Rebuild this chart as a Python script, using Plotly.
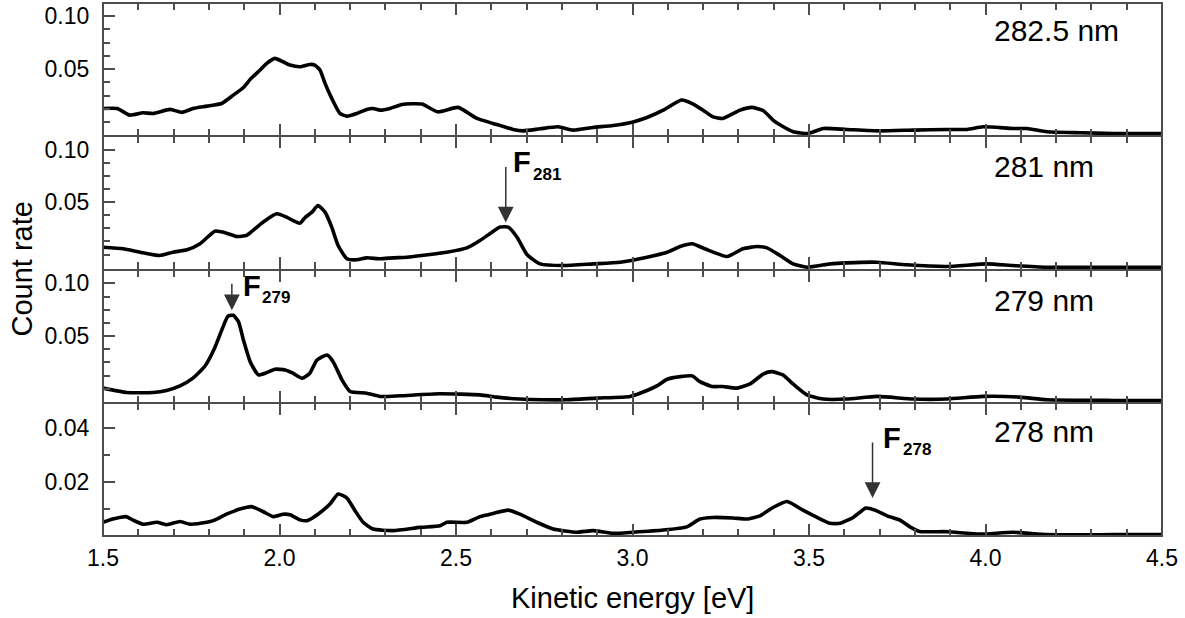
import plotly.graph_objects as go

# ---------------- data ----------------
ke_2825 = [1.50, 1.54, 1.576, 1.613, 1.642, 1.69, 1.724, 1.755, 1.794, 1.836, 1.869, 1.898, 1.917, 1.945, 1.964,
           1.987, 2.01, 2.03, 2.058, 2.086, 2.10, 2.115, 2.129, 2.148, 2.171, 2.191, 2.219, 2.247, 2.265, 2.285,
           2.313, 2.347, 2.403, 2.449, 2.506, 2.559, 2.605, 2.662, 2.69, 2.738, 2.789, 2.832, 2.888, 2.945, 2.999,
           3.041, 3.087, 3.111, 3.139, 3.172, 3.20, 3.228, 3.256, 3.305, 3.338, 3.371, 3.398, 3.42, 3.455, 3.498,
           3.54, 3.607, 3.701, 3.795, 3.891, 3.948, 3.993, 4.078, 4.118, 4.174, 4.268, 4.361, 4.50]
rate_2825 = [0.0129, 0.0129, 0.0066, 0.0088, 0.0082, 0.0120, 0.0092, 0.0129, 0.0151, 0.0176, 0.0255, 0.0327, 0.0403,
             0.0491, 0.0554, 0.0601, 0.0569, 0.0538, 0.0522, 0.0544, 0.0538, 0.0490, 0.0365, 0.0224, 0.0082, 0.0057,
             0.0082, 0.0120, 0.0129, 0.0113, 0.0129, 0.0167, 0.0170, 0.0097, 0.0139, 0.0035, -0.0012, -0.0069,
             -0.0082, -0.0063, -0.0044, -0.0075, -0.0050, -0.0031, 0.0000, 0.0044, 0.0113, 0.0160, 0.0208, 0.0170,
             0.0113, 0.0050, 0.0035, 0.0113, 0.0139, 0.0107, 0.0019, -0.0030, -0.0091, -0.0107, -0.0060, -0.0069,
             -0.0082, -0.0075, -0.0069, -0.0069, -0.0044, -0.0060, -0.0060, -0.0091, -0.0100, -0.0107, -0.0107]

ke_281 = [1.50, 1.557, 1.605, 1.661, 1.698, 1.738, 1.775, 1.817, 1.85, 1.879, 1.907, 1.925, 1.953, 1.992, 2.02,
          2.038, 2.058, 2.072, 2.092, 2.109, 2.129, 2.148, 2.166, 2.191, 2.219, 2.247, 2.285, 2.322, 2.361, 2.426,
          2.474, 2.531, 2.568, 2.602, 2.625, 2.648, 2.673, 2.701, 2.738, 2.803, 2.888, 2.965, 3.041, 3.098, 3.135,
          3.169, 3.205, 3.268, 3.313, 3.353, 3.381, 3.418, 3.455, 3.494, 3.56, 3.607, 3.693, 3.777, 3.891, 4.004,
          4.078, 4.174, 4.361, 4.50]
rate_281 = [0.0070, 0.0055, 0.0022, -0.0010, 0.0022, 0.0045, 0.0103, 0.0224, 0.0205, 0.0173, 0.0183, 0.0231, 0.0310,
            0.0391, 0.0359, 0.0327, 0.0301, 0.0353, 0.0407, 0.0471, 0.0407, 0.0263, 0.0087, -0.0041, -0.0051,
            -0.0032, -0.0041, -0.0032, -0.0026, 0.0000, 0.0022, 0.0064, 0.0135, 0.0214, 0.0263, 0.0263, 0.0166,
            0.0000, -0.0090, -0.0106, -0.0090, -0.0074, -0.0026, 0.0022, 0.0077, 0.0103, 0.0055, -0.0019, 0.0055,
            0.0077, 0.0064, -0.0010, -0.0090, -0.0122, -0.0090, -0.0080, -0.0074, -0.0099, -0.0115, -0.0090,
            -0.0106, -0.0122, -0.0122, -0.0122]

ke_279 = [1.50, 1.567, 1.642, 1.68, 1.718, 1.755, 1.789, 1.817, 1.84, 1.854, 1.869, 1.884, 1.898, 1.917, 1.94,
          1.964, 1.987, 2.016, 2.038, 2.064, 2.086, 2.106, 2.135, 2.152, 2.177, 2.20, 2.247, 2.285, 2.341, 2.455,
          2.568, 2.616, 2.681, 2.746, 2.814, 2.899, 2.993, 3.041, 3.069, 3.098, 3.135, 3.169, 3.191, 3.225, 3.256,
          3.296, 3.333, 3.371, 3.394, 3.426, 3.455, 3.494, 3.54, 3.607, 3.693, 3.795, 3.891, 3.993, 4.098, 4.174,
          4.361, 4.50]
rate_279 = [0.0007, -0.0035, -0.0035, -0.0016, 0.0028, 0.0101, 0.0217, 0.0393, 0.0588, 0.0689, 0.0698, 0.0635,
            0.0462, 0.0258, 0.0132, 0.0154, 0.0186, 0.0179, 0.0148, 0.0101, 0.0148, 0.0274, 0.0321, 0.0258, 0.0085,
            -0.0025, -0.0041, -0.0072, -0.0066, -0.0047, -0.0057, -0.0079, -0.0097, -0.0104, -0.0104, -0.0088,
            -0.0072, -0.0016, 0.0028, 0.0091, 0.0116, 0.0123, 0.0069, 0.0022, 0.0022, 0.0007, 0.0047, 0.0142,
            0.0163, 0.0132, 0.0046, -0.0057, -0.0097, -0.0097, -0.0072, -0.0097, -0.0097, -0.0072, -0.0079,
            -0.0104, -0.0110, -0.0110]

ke_278 = [1.50, 1.528, 1.565, 1.585, 1.613, 1.653, 1.681, 1.718, 1.746, 1.794, 1.812, 1.85, 1.888, 1.921, 1.953,
          1.982, 2.01, 2.03, 2.058, 2.078, 2.109, 2.143, 2.166, 2.191, 2.214, 2.237, 2.265, 2.322, 2.398, 2.455,
          2.474, 2.531, 2.568, 2.605, 2.648, 2.681, 2.729, 2.775, 2.843, 2.888, 2.945, 3.001, 3.087, 3.154, 3.191,
          3.228, 3.285, 3.324, 3.361, 3.398, 3.438, 3.483, 3.523, 3.56, 3.588, 3.625, 3.661, 3.687, 3.721, 3.758,
          3.786, 3.814, 3.891, 3.984, 4.078, 4.174, 4.361, 4.50]
rate_278 = [0.0051, 0.0063, 0.0072, 0.0059, 0.0044, 0.0051, 0.0042, 0.0054, 0.0044, 0.0051, 0.0057, 0.0081, 0.0100,
            0.0109, 0.0091, 0.0072, 0.0081, 0.0079, 0.0060, 0.0057, 0.0081, 0.0119, 0.0156, 0.0141, 0.0094, 0.0051,
            0.0026, 0.0020, 0.0032, 0.0038, 0.0051, 0.0051, 0.0072, 0.0084, 0.0096, 0.0081, 0.0051, 0.0026, 0.0014,
            0.0020, 0.0010, 0.0014, 0.0022, 0.0034, 0.0063, 0.0069, 0.0067, 0.0063, 0.0075, 0.0106, 0.0128, 0.0096,
            0.0069, 0.0047, 0.0047, 0.0069, 0.0104, 0.0096, 0.0075, 0.0059, 0.0034, 0.0017, 0.0016, 0.0007, 0.0014,
            0.0005, 0.0005, 0.0005]

panel_labels = ["282.5 nm", "281 nm", "279 nm", "278 nm"]
x_ticks = [1.5, 2.0, 2.5, 3.0, 3.5, 4.0, 4.5]
y_ticks_top = [0.05, 0.10]
y_ticks_bottom = [0.02, 0.04]

# peak markers: (panel index, energy, count rate at arrow tip, subscript)
peak_panel = [1, 2, 3]
peak_energy = [2.641, 1.865, 3.680]
peak_rate = [0.0308, 0.0745, 0.0141]
peak_sub = ["281", "279", "278"]

# ---------------- figure ----------------
FONT = "Arial, Liberation Sans, Helvetica, sans-serif"
AX = "#4d4d4d"
series = [(ke_2825, rate_2825), (ke_281, rate_281), (ke_279, rate_279), (ke_278, rate_278)]
domains = [[0.75, 1.0], [0.5, 0.75], [0.25, 0.5], [0.0, 0.25]]
yranges = [[-0.0133, 0.1123], [-0.0144, 0.1135], [-0.0132, 0.1132], [0.0, 0.0495]]

fig = go.Figure()
layout = dict(
    width=1185, height=618,
    margin=dict(l=103, r=23, t=3, b=82),
    paper_bgcolor="white", plot_bgcolor="white",
    showlegend=False,
    font=dict(family=FONT, color="black"),
)

for i, (xs, ys) in enumerate(series):
    n = "" if i == 0 else str(i + 1)
    fig.add_trace(go.Scatter(x=xs, y=ys, mode="lines", xaxis="x" + n, yaxis="y" + n,
                             line=dict(color="black", width=3.6, shape="spline", smoothing=0.5),
                             hoverinfo="skip"))
    layout["xaxis" + n] = dict(
        domain=[0, 1], anchor="y" + n, range=[1.5, 4.5],
        tickvals=x_ticks, ticktext=[f"{v:.1f}" for v in x_ticks],
        showticklabels=(i == 3),
        ticks="inside", ticklen=12, tickwidth=1.5, tickcolor=AX,
        minor=dict(dtick=0.1, tick0=0, ticks="inside", ticklen=7, tickwidth=1.5, tickcolor=AX),
        showline=True, linecolor=AX, linewidth=1.1, mirror="allticks",
        showgrid=False, zeroline=False,
        tickfont=dict(size=23, family=FONT, color="black"),
        ticklabelstandoff=1,
    )
    if i < 3:
        yt = y_ticks_top
        ymin = [0.0, 0.0125, 0.025, 0.0375, 0.0625, 0.075, 0.0875]
    else:
        yt = y_ticks_bottom
        ymin = [0.01, 0.03]
    layout["yaxis" + n] = dict(
        domain=domains[i], anchor="x" + n, range=yranges[i],
        tickvals=yt, ticktext=[f"{v:.2f}" for v in yt],
        ticks="inside", ticklen=12, tickwidth=1.5, tickcolor=AX,
        minor=dict(tickmode="array", tickvals=ymin, ticks="inside", ticklen=7, tickwidth=1.5, tickcolor=AX),
        showline=True, linecolor=AX, linewidth=1.1, mirror=True,
        showgrid=False, zeroline=False,
        tickfont=dict(size=23, family=FONT, color="black"),
        ticklabelstandoff=8,
    )

fig.update_layout(**layout)

# outer frame drawn a little heavier than the inner panel separators
fig.add_shape(type="rect", xref="paper", yref="paper", x0=0, x1=1, y0=0, y1=1,
              line=dict(color=AX, width=2), fillcolor="rgba(0,0,0,0)", layer="above")

ann = []
label_y = [0.795, 0.77, 0.77, 0.785]
for i, lab in enumerate(panel_labels):
    n = "" if i == 0 else str(i + 1)
    ann.append(dict(text=lab, xref="x" + n, yref="y" + n + " domain", x=4.018, y=label_y[i],
                    xanchor="left", yanchor="middle", showarrow=False,
                    font=dict(size=30, family=FONT, color="black")))

arrow_len = [57, 28, 57]
f_pos = [(2.656, 0.805, 2.712, 0.715), (1.891, 0.877, 1.945, 0.788), (3.704, 0.737, 3.760, 0.651)]
for k in range(3):
    i = peak_panel[k]
    n = str(i + 1)
    ann.append(dict(x=peak_energy[k], y=peak_rate[k], xref="x" + n, yref="y" + n,
                    showarrow=True, ax=0, ay=-arrow_len[k], arrowhead=2, arrowsize=2.1,
                    arrowwidth=1.5, arrowcolor="#333333", text="", standoff=0))
    fx, fy, sx, sy = f_pos[k]
    ann.append(dict(text="<b>F</b>", xref="x" + n, yref="y" + n + " domain", x=fx, y=fy,
                    xanchor="left", yanchor="middle", showarrow=False,
                    font=dict(size=29, family=FONT, color="black")))
    ann.append(dict(text="<b>" + peak_sub[k] + "</b>", xref="x" + n, yref="y" + n + " domain", x=sx, y=sy,
                    xanchor="left", yanchor="middle", showarrow=False,
                    font=dict(size=17, family=FONT, color="black")))

ann.append(dict(text="Kinetic energy [eV]", xref="paper", yref="paper", x=0.5, y=-0.1163,
                xanchor="center", yanchor="middle", showarrow=False,
                font=dict(size=29, family=FONT, color="black")))
ann.append(dict(text="Count rate", xref="paper", yref="paper", x=-0.0774, y=0.5, textangle=-90,
                xanchor="center", yanchor="middle", showarrow=False,
                font=dict(size=29, family=FONT, color="black")))
fig.update_layout(annotations=ann)

fig.write_html("out.html", config={"displayModeBar": False},
               post_script="document.body.style.margin='0';document.body.style.overflow='hidden';")
